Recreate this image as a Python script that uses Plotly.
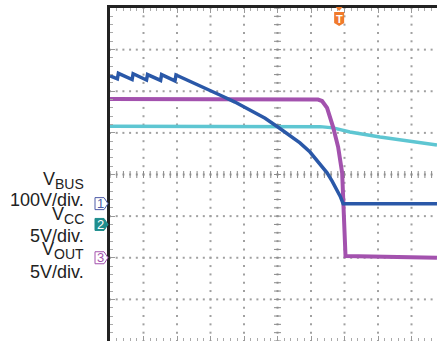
import numpy as np
import plotly.graph_objects as go

# ---- data (time in divisions from left edge, volts per channel) ----
vbus_t = [0, 0.22, 0.25, 0.66, 0.69, 1.09, 1.12, 1.51, 1.54, 1.94, 1.97, 2.39, 2.69, 3.28, 3.73,
          4.18, 4.63, 5.01, 5.37, 5.67, 5.97, 6.18, 6.33, 6.48, 6.63, 6.78, 6.87, 6.96, 9.76]
vbus_v = [307, 300, 313, 298, 312, 297, 310, 296, 310, 295, 309, 294, 284, 261, 244,
          225, 205, 184, 164, 146, 124, 103, 88, 74, 54, 33, 18, 0, 0]

vout_t = [0, 6.21, 6.33, 6.48, 6.66, 6.81, 6.93, 6.96, 7.00, 7.03, 9.76]
vout_v = [19.07, 19.0, 18.83, 18.0, 15.7, 13.3, 10.2, 6.9, 2.1, 0.2, 0.0]

vcc_t = [0, 5.97, 6.27, 6.66, 7.16, 8.06, 8.99, 9.76]
vcc_v = [11.8, 11.8, 11.75, 11.6, 11.1, 10.5, 10.0, 9.55]

channel_names = ["BUS", "CC", "OUT"]
channel_scales = [100, 5, 5]          # V/div
channel_offsets = [-0.7, -1.2, -2.0]  # ground level in divisions
channel_labels = ["100V/div.", "5V/div.", "5V/div."]
channel_colors = ["#2a58a8", "#5ec6d2", "#a352ae"]
marker_colors = ["#4c5aa6", "#1f8e8e", "#a352ae"]
trigger_time = 6.84

X_MAX = 9.761
fig = go.Figure()

# ---- graticule dots ----
minor = np.round(np.arange(-4, 4.001, 0.2), 3)
xminor = np.round(np.arange(0, X_MAX, 0.2), 3)
gx, gy = [], []
for xv in range(1, 10):
    gx += [xv] * len(minor)
    gy += list(minor)
for yv in range(-3, 4):
    gx += list(xminor)
    gy += [yv] * len(xminor)
fig.add_trace(go.Scatter(x=gx, y=gy, mode="markers", hoverinfo="skip",
                         marker=dict(symbol="square", size=2, color="#a0a0a0", line=dict(width=0))))
# centre cross ticks
fig.add_trace(go.Scatter(x=list(xminor), y=[0] * len(xminor), mode="markers", hoverinfo="skip",
                         marker=dict(symbol="line-ns", size=5, line=dict(width=1, color="#8a8a8a"))))
fig.add_trace(go.Scatter(x=[5] * len(minor), y=list(minor), mode="markers", hoverinfo="skip",
                         marker=dict(symbol="line-ew", size=5, line=dict(width=1, color="#8a8a8a"))))

# ---- traces ----
def to_div(vals, ch):
    return [v / channel_scales[ch] + channel_offsets[ch] for v in vals]

fig.add_trace(go.Scatter(x=vcc_t, y=to_div(vcc_v, 1), mode="lines",
                         line=dict(color=channel_colors[1], width=3.5)))
fig.add_trace(go.Scatter(x=vout_t, y=to_div(vout_v, 2), mode="lines",
                         line=dict(color=channel_colors[2], width=4)))
fig.add_trace(go.Scatter(x=vbus_t, y=to_div(vbus_v, 0), mode="lines",
                         line=dict(color=channel_colors[0], width=3.5)))

# ---- channel ground markers ----
px_w = 327.0
def paper_x(px):
    return (px - 110) / px_w

shapes = []
annotations = []
hh = 6 / 41.6
for i, off in enumerate(channel_offsets):
    x0, x1, x2 = paper_x(95), paper_x(104), paper_x(108)
    path = f"M {x0},{off-hh} L {x1},{off-hh} L {x2},{off} L {x1},{off+hh} L {x0},{off+hh} Z"
    filled = (i == 1)
    shapes.append(dict(type="path", path=path, xref="paper", yref="y",
                       line=dict(color=marker_colors[i], width=1),
                       fillcolor=marker_colors[i] if filled else "white"))
    annotations.append(dict(text=str(i + 1), xref="paper", yref="y", x=paper_x(100), y=off,
                            showarrow=False, xanchor="center", yanchor="middle",
                            font=dict(size=13, color="white" if filled else marker_colors[i],
                                      family="Liberation Sans, Arial")))

# ---- text labels ----
def paper_y(py):
    return (341 - py) / 333.0

label_font = dict(size=18, color="#222222", family="Liberation Sans, Arial")
name_y = [180, 215, 250]
unit_y = [200, 235.5, 271.5]
for i in range(3):
    annotations.append(dict(text=f"V<sub><span style='font-size:14px'>{channel_names[i]}</span></sub>",
                            xref="paper", yref="paper",
                            x=paper_x(85.5), y=paper_y(name_y[i]), showarrow=False,
                            xanchor="right", yanchor="middle", font=label_font))
    annotations.append(dict(text=channel_labels[i], xref="paper", yref="paper",
                            x=paper_x(85.5), y=paper_y(unit_y[i]), showarrow=False,
                            xanchor="right", yanchor="middle", font=label_font))

# ---- trigger marker ----
tw = 5 / 33.5
tri = 3.5 / 33.5
shapes.append(dict(type="path", xref="x", yref="paper",
                   path=f"M {trigger_time-tri},{paper_y(7)} L {trigger_time+tri},{paper_y(7)} L {trigger_time},{paper_y(11)} Z",
                   fillcolor="#f07a2c", line=dict(width=0)))
shapes.append(dict(type="path", xref="x", yref="paper",
                   path=(f"M {trigger_time-tw},{paper_y(12)} L {trigger_time+tw},{paper_y(12)} "
                         f"L {trigger_time+tw},{paper_y(23)} L {trigger_time},{paper_y(26)} "
                         f"L {trigger_time-tw},{paper_y(23)} Z"),
                   fillcolor="#f07a2c", line=dict(width=0)))
annotations.append(dict(text="<b>T</b>", xref="x", yref="paper", x=trigger_time, y=paper_y(18.5),
                        showarrow=False, xanchor="center", yanchor="middle",
                        font=dict(size=11, color="white", family="Liberation Sans, Arial")))

fig.update_layout(
    width=437, height=341,
    margin=dict(l=110, r=0, t=8, b=0),
    plot_bgcolor="white", paper_bgcolor="white",
    showlegend=False,
    shapes=shapes, annotations=annotations,
    xaxis=dict(range=[0, X_MAX], showgrid=False, zeroline=False, showticklabels=False,
               showline=True, linecolor="#222222", linewidth=3, mirror="ticks",
               ticks="inside", tick0=0, dtick=1, ticklen=5, tickcolor="#999999",
               minor=dict(dtick=0.2, ticks="inside", ticklen=3, tickcolor="#aaaaaa")),
    yaxis=dict(range=[-4, 4], showgrid=False, zeroline=False, showticklabels=False,
               showline=True, linecolor="#222222", linewidth=3, mirror=False,
               ticks="inside", tick0=0, dtick=1, ticklen=5, tickcolor="#999999",
               minor=dict(dtick=0.2, ticks="inside", ticklen=3, tickcolor="#aaaaaa")),
)

fig.write_html("out.html", config={"displayModeBar": False},
               post_script="document.body.style.margin='0';document.body.style.overflow='hidden';")
